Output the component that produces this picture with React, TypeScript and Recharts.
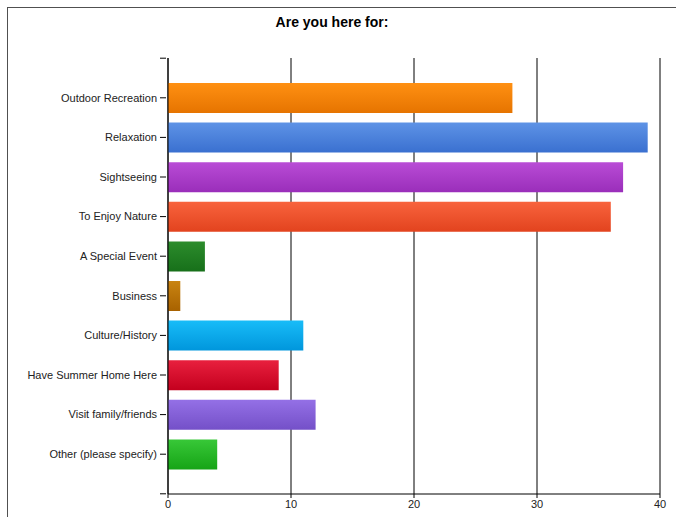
import React from "react";
import { BarChart, Bar, XAxis, YAxis, CartesianGrid, Cell } from "recharts";

const categories = [
  "Outdoor Recreation",
  "Relaxation",
  "Sightseeing",
  "To Enjoy Nature",
  "A Special Event",
  "Business",
  "Culture/History",
  "Have Summer Home Here",
  "Visit family/friends",
  "Other (please specify)",
];
const counts = [28, 39, 37, 36, 3, 1, 11, 9, 12, 4];
const xTicks = [0, 10, 20, 30, 40];
const title = "Are you here for:";

const topColors = ["#FF9012", "#5E93E6", "#B94CD6", "#F8633D", "#2C8C2C", "#C98412", "#18BCF8", "#E8203E", "#9470E6", "#38C838"];
const bottomColors = ["#E67400", "#3A70D0", "#9A2EBA", "#E2431E", "#17701A", "#A86200", "#0096DC", "#C4001E", "#7450C8", "#16A416"];

const FONT = "Liberation Sans, Arial, sans-serif";

const data = categories.map((name, i) => ({ name, value: counts[i] }));

const YTick = (props: any) => {
  const { x, y, payload, index } = props;
  const off = payload && payload.offset ? payload.offset : 0;
  return (
    <g>
      <line x1={x} x2={x + 6} y1={y} y2={y} stroke="#000" />
      {index === 0 && <line x1={x} x2={x + 6} y1={y - 2 * off} y2={y - 2 * off} stroke="#000" />}
      {index === categories.length - 1 && (
        <line x1={x} x2={x + 6} y1={y + 2 * off} y2={y + 2 * off} stroke="#000" />
      )}
      <text x={x - 3} y={y} dy="0.35em" textAnchor="end" fill="#222" fontSize={11} fontFamily={FONT}>
        {payload.value}
      </text>
    </g>
  );
};

const XTick = (props: any) => {
  const { x, y, payload } = props;
  return (
    <text x={x} y={y} dy="0.71em" textAnchor="middle" fill="#222" fontSize={11} fontFamily={FONT}>
      {payload.value}
    </text>
  );
};

export default function App() {
  return (
    <div style={{ position: "absolute", left: 0, top: 0, width: 676, height: 517, background: "#fff", overflow: "hidden" }}>
      <div
        style={{
          position: "absolute",
          left: 7,
          top: 7,
          width: 700,
          height: 530,
          borderTop: "1px solid #505050",
          borderLeft: "1px solid #505050",
          boxSizing: "border-box",
        }}
      />
      <div
        style={{
          position: "absolute",
          left: 0,
          top: 14,
          width: 664,
          textAlign: "center",
          fontFamily: FONT,
          fontWeight: "bold",
          fontSize: 14,
          lineHeight: "16px",
          color: "#000",
        }}
      >
        {title}
      </div>
      <div style={{ position: "absolute", left: 0, top: 0 }}>
        <BarChart
          width={676}
          height={517}
          data={data}
          layout="vertical"
          margin={{ top: 58, right: 16, bottom: 3, left: 0 }}
        >
          <defs>
            {categories.map((c, i) => (
              <linearGradient key={c} id={"g" + i} x1="0" y1="0" x2="0" y2="1">
                <stop offset="0%" stopColor={topColors[i]} />
                <stop offset="100%" stopColor={bottomColors[i]} />
              </linearGradient>
            ))}
          </defs>
          <CartesianGrid horizontal={false} vertical={true} stroke="#000" strokeOpacity={1} />
          <XAxis
            type="number"
            domain={[0, 40]}
            ticks={xTicks}
            height={20}
            stroke="#000"
            axisLine={{ stroke: "#000" }}
            tickLine={{ stroke: "#000" }}
            tickSize={4}
            tick={<XTick />}
            interval={0}
          />
          <YAxis
            type="category"
            dataKey="name"
            width={168}
            padding={{ top: 20, bottom: 20 }}
            axisLine={{ stroke: "#000" }}
            tickLine={false}
            tick={<YTick />}
            interval={0}
          />
          <Bar dataKey="value" barSize={30} isAnimationActive={false}>
            {data.map((d, i) => (
              <Cell key={d.name} fill={`url(#g${i})`} />
            ))}
          </Bar>
        </BarChart>
      </div>
    </div>
  );
}
